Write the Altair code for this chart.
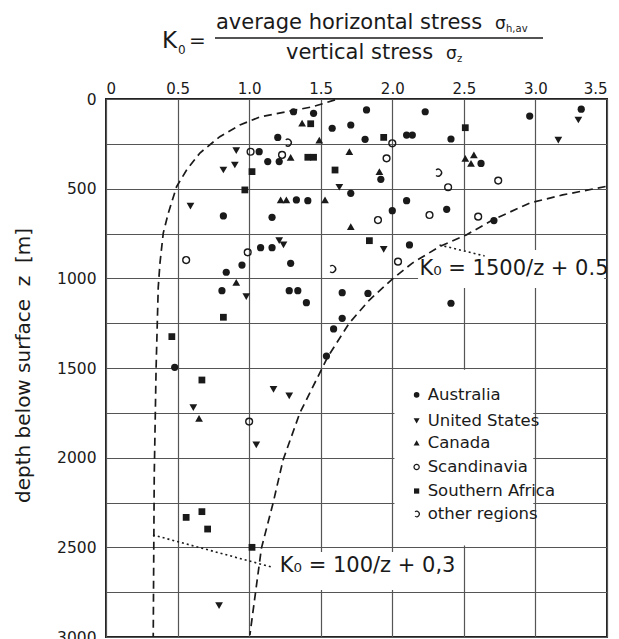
import altair as alt
import pandas as pd

FONT = "DejaVu Sans"
INK = "#1a1a1a"

# ---------------- data ----------------
REGIONS = ["Australia", "United States", "Canada", "Scandinavia",
           "Southern Africa", "other regions"]

AUS_K = [1.31, 1.45, 1.58, 1.20, 1.07, 1.13, 1.21, 1.33, 1.41, 0.82, 1.16, 1.08,
         1.16, 1.29, 0.95, 0.84, 0.81, 1.28, 1.34, 1.65, 1.83, 1.82, 2.23, 2.96,
         3.32, 1.71, 1.81, 2.10, 2.14, 2.41, 1.92, 2.62, 1.71, 2.10, 2.00, 2.38,
         2.71, 2.12, 1.40, 1.65, 1.59, 1.54, 0.48, 2.41]
AUS_Z = [71, 80, 163, 214, 294, 349, 349, 563, 567, 652, 660, 829,
         829, 916, 926, 966, 1069, 1069, 1069, 1080, 1084, 61, 71, 95,
         57, 145, 225, 201, 201, 223, 448, 359, 526, 567, 623, 615,
         678, 814, 1136, 1223, 1282, 1433, 1496, 1139]

USA_K = [0.91, 0.90, 0.82, 0.59, 1.21, 1.24, 0.98, 3.30, 3.16, 1.63, 1.94, 0.61,
         1.17, 1.28, 1.05, 0.79]
USA_Z = [288, 368, 396, 597, 790, 814, 1102, 117, 229, 492, 838, 1721,
         1619, 1656, 1929, 2825]

CAN_K = [1.37, 1.49, 1.29, 1.22, 1.26, 1.53, 0.91, 1.70, 1.91, 2.57, 2.51, 2.55,
         1.71, 0.65]
CAN_Z = [135, 229, 325, 563, 563, 563, 1022, 294, 405, 312, 331, 359,
         712, 1781]

SCA_K = [1.01, 1.23, 0.99, 0.56, 2.00, 1.96, 2.74, 2.39, 2.26, 1.90, 2.60, 2.04, 1.00]
SCA_Z = [294, 312, 855, 898, 247, 331, 455, 492, 647, 675, 656, 907, 1799]

SAF_K = [1.43, 1.41, 1.45, 1.02, 0.97, 1.94, 2.51, 1.60, 1.84, 0.82, 0.46, 0.67,
         0.56, 0.67, 0.71, 1.02]
SAF_Z = [138, 325, 325, 405, 507, 214, 160, 396, 790, 1217, 1325, 1567,
         2333, 2301, 2398, 2500]

OTH_K = [1.27, 1.58, 2.32]
OTH_Z = [243, 948, 411]

# envelope curves
INNER_K = [1.60, 1.445, 1.26, 1.075, 0.935, 0.795, 0.656, 0.563, 0.493, 0.435,
           0.40, 0.377, 0.365, 0.35, 0.337, 0.33]
INNER_Z = [5, 43, 71, 100, 145, 210, 301, 396, 489, 637,
           748, 915, 1050, 1500, 2100, 3000]
OUTER_K = [3.49, 3.19, 2.96, 2.70, 2.517, 2.33, 2.14, 2.0, 1.84, 1.70, 1.55,
           1.354, 1.237, 1.167, 1.086, 1.05, 1.005]
OUTER_Z = [488, 535, 580, 675, 758, 823, 915, 1004, 1121, 1249, 1437,
           1751, 2013, 2254, 2504, 2719, 2990]

# leader lines from the labels to the curves
LEAD_ID = ["outer", "outer", "inner", "inner"]
LEAD_K = [2.33, 2.645, 0.328, 1.158]
LEAD_Z = [814, 875, 2431, 2610]

CURVE_LABELS = ["K\u2080 = 1500/z + 0.5", "K\u2080 = 100/z + 0,3"]
CURVE_LABEL_K = [2.19, 1.214]
CURVE_LABEL_Z = [981, 2637]

# white boxes behind labels and legend (K1, K2, z1, z2)
BOX_K1 = [2.18, 1.18, 2.015]
BOX_K2 = [3.48, 2.435, 2.985]
BOX_Z1 = [842, 2526, 1510]
BOX_Z2 = [1054, 2738, 2490]

LEGEND_Z = [1650, 1795, 1918, 2052, 2186, 2314]
LEGEND_SYMBOL_K = 2.17
LEGEND_TEXT_K = 2.247

X_TICKS = [0, 0.5, 1.0, 1.5, 2.0, 2.5, 3.0, 3.5]
Y_TICKS = list(range(0, 3001, 250))

OTHER_PATH = "M -0.6 -0.8 A 1 1 0 1 1 -0.6 0.8"
STYLE = {
    "Australia": dict(shape="circle", filled=True, size=52),
    "United States": dict(shape="triangle-down", filled=True, size=60),
    "Canada": dict(shape="triangle-up", filled=True, size=60),
    "Scandinavia": dict(shape="circle", filled=False, size=46),
    "Southern Africa": dict(shape="square", filled=True, size=46),
    "other regions": dict(shape=OTHER_PATH, filled=False, size=48),
}
SERIES = {
    "Australia": (AUS_K, AUS_Z),
    "United States": (USA_K, USA_Z),
    "Canada": (CAN_K, CAN_Z),
    "Scandinavia": (SCA_K, SCA_Z),
    "Southern Africa": (SAF_K, SAF_Z),
    "other regions": (OTH_K, OTH_Z),
}

# ---------------- encodings ----------------
def X(field):
    return alt.X(field, type="quantitative",
                 scale=alt.Scale(domain=[0, 3.5], nice=False, zero=False),
                 axis=alt.Axis(orient="top", values=X_TICKS, title=None,
                               labelExpr="datum.value == 0 ? '0' : format(datum.value, '.1f')",
                               ticks=False, domain=False, grid=True,
                               labelPadding=3, labelFontSize=15))

def Y(field):
    return alt.Y(field, type="quantitative",
                 scale=alt.Scale(domain=[0, 3000], nice=False, reverse=True),
                 axis=alt.Axis(values=Y_TICKS, ticks=False, domain=False, grid=True,
                               labelExpr="datum.value % 500 == 0 ? format(datum.value, 'd') : ''",
                               labelPadding=10, labelFontSize=15.5,
                               title="depth below surface\u00a0\u00a0z\u00a0\u00a0[m]",
                               titleFontSize=20, titleFontWeight="normal",
                               titleX=-83, titleY=266, titleAngle=-90,
                               titleAlign="center", titleBaseline="middle"))

layers = []

# white boxes
boxes = pd.DataFrame({"K1": BOX_K1, "K2": BOX_K2, "z1": BOX_Z1, "z2": BOX_Z2})
layers.append(alt.Chart(boxes).mark_rect(color="white").encode(
    x=X("K1"), x2="K2", y=Y("z1"), y2="z2"))

# dashed envelope curves
curves = pd.concat([
    pd.DataFrame({"curve": "inner", "K": INNER_K, "z": INNER_Z, "i": range(len(INNER_K))}),
    pd.DataFrame({"curve": "outer", "K": OUTER_K, "z": OUTER_Z, "i": range(len(OUTER_K))}),
])
layers.append(alt.Chart(curves).mark_line(color=INK, strokeWidth=1.7, strokeDash=[8, 5]).encode(
    x=X("K"), y=Y("z"), detail="curve:N", order="i:Q"))

# dotted leaders
leads = pd.DataFrame({"id": LEAD_ID, "K": LEAD_K, "z": LEAD_Z, "i": range(len(LEAD_K))})
layers.append(alt.Chart(leads).mark_line(color=INK, strokeWidth=1.6, strokeDash=[2, 3]).encode(
    x=X("K"), y=Y("z"), detail="id:N", order="i:Q"))

# data points
for region in REGIONS:
    ks, zs = SERIES[region]
    st = STYLE[region]
    df = pd.DataFrame({"K": ks, "z": zs, "region": region})
    layers.append(alt.Chart(df).mark_point(
        shape=st["shape"], filled=st["filled"], size=st["size"],
        color=INK, opacity=1, strokeWidth=1.4).encode(x=X("K"), y=Y("z")))

# curve labels
cl = pd.DataFrame({"t": CURVE_LABELS, "K": CURVE_LABEL_K, "z": CURVE_LABEL_Z})
layers.append(alt.Chart(cl).mark_text(font=FONT, fontSize=21, align="left",
                                      baseline="alphabetic", color=INK).encode(
    x=X("K"), y=Y("z"), text="t:N"))

# legend
for region, z in zip(REGIONS, LEGEND_Z):
    st = STYLE[region]
    df = pd.DataFrame({"K": [LEGEND_SYMBOL_K], "z": [z]})
    layers.append(alt.Chart(df).mark_point(
        shape=st["shape"], filled=st["filled"], size=st["size"] * 0.6,
        color=INK, opacity=1, strokeWidth=1.2).encode(x=X("K"), y=Y("z")))
leg = pd.DataFrame({"t": REGIONS, "K": [LEGEND_TEXT_K] * len(REGIONS), "z": LEGEND_Z})
layers.append(alt.Chart(leg).mark_text(font=FONT, fontSize=16.5, align="left",
                                       baseline="middle", color=INK).encode(
    x=X("K"), y=Y("z"), text="t:N"))

# title formula  K0 = average horizontal stress / vertical stress
OX, OY = 106, 99
def txt(s, px, py, size):
    return alt.Chart(pd.DataFrame({"t": [s]})).mark_text(
        font=FONT, fontSize=size, align="left", baseline="alphabetic", color=INK
    ).encode(text="t:N", x=alt.value(px - OX), y=alt.value(py - OY))

layers += [
    txt("K", 162, 48, 23),
    txt("0", 178, 54, 12),
    txt("=", 189, 47, 20),
    txt("average horizontal stress", 216, 29, 21),
    txt("\u03c3", 495, 29, 17),
    txt("h,av", 506, 32, 10),
    txt("vertical stress", 286, 59, 21),
    txt("\u03c3", 446, 59, 17),
    txt("z", 457, 62, 10),
]
layers.append(alt.Chart(pd.DataFrame({"a": [0]})).mark_rule(color=INK, strokeWidth=1.5).encode(
    x=alt.value(215 - OX), x2=alt.value(543 - OX), y=alt.value(38 - OY)))

chart = alt.layer(*layers).properties(
    width=501, height=538,
    autosize=alt.AutoSizeParams(type="none"),
    padding={"left": 106, "top": 99, "right": 12, "bottom": 2},
    background="white",
).configure_view(
    stroke="#222", strokeWidth=2
).configure_axis(
    labelFont=FONT, titleFont=FONT, labelColor=INK, titleColor=INK,
    gridColor="#555", gridWidth=1.2, gridOpacity=1
)

chart.save("out.html", embed_options={"renderer": "svg", "actions": False})
